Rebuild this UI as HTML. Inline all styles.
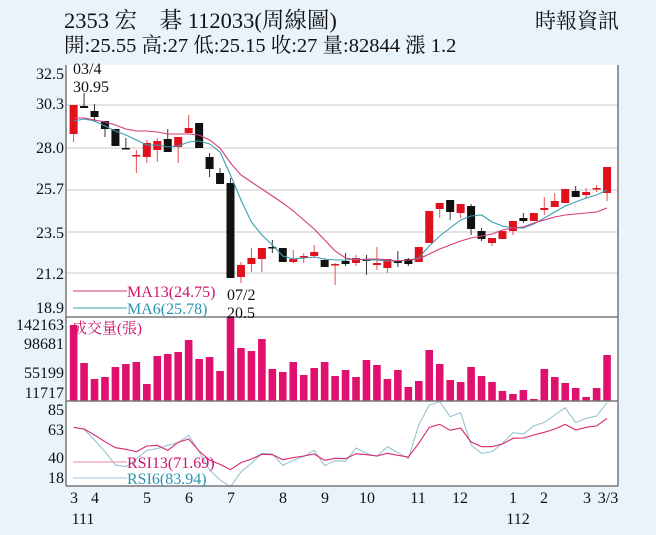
<!DOCTYPE html>
<html><head><meta charset="utf-8"><style>
html,body{margin:0;padding:0;background:#e8f3fc;}
svg{display:block;font-family:"Liberation Serif","Noto Serif CJK SC","Noto Sans CJK TC",serif;}
</style></head><body>
<svg id="s" width="656" height="535" viewBox="0 0 656 535" xmlns="http://www.w3.org/2000/svg">
<rect x="0" y="0" width="656" height="535" fill="#e8f3fc"/>
<rect x="66" y="65" width="552" height="421" fill="#fff"/>
<g stroke="#dcdcdc" stroke-width="1.5">
<line x1="66" y1="105" x2="618" y2="105"/><line x1="66" y1="148" x2="618" y2="148"/>
<line x1="66" y1="190" x2="618" y2="190"/><line x1="66" y1="232" x2="618" y2="232"/>
<line x1="66" y1="273" x2="618" y2="273"/>
</g>
<g id="g"></g>
<g stroke="#777" stroke-width="1.5" fill="none">
<line x1="66" y1="65" x2="66" y2="486"/><line x1="618" y1="65" x2="618" y2="486"/>
<line x1="66" y1="317" x2="618" y2="317"/><line x1="66" y1="401" x2="618" y2="401"/>
<line x1="66" y1="486" x2="618" y2="486"/>
</g>
<text x="64" y="28" font-size="22.5" fill="#111">2353  宏　碁 112033(周線圖)</text>
<text x="64" y="52" font-size="20.5" fill="#111">開:25.55 高:27 低:25.15 收:27 量:82844 漲 1.2</text>
<text x="535" y="28" font-size="21" fill="#111">時報資訊</text>
<g font-size="16" fill="#111" text-anchor="end">
<text x="64" y="79">32.5</text><text x="64" y="109">30.3</text><text x="64" y="153">28.0</text>
<text x="64" y="194">25.7</text><text x="64" y="238">23.5</text><text x="64" y="279">21.2</text>
<text x="64" y="313">18.9</text>
<text x="64" y="330">142163</text><text x="64" y="349">98681</text><text x="64" y="378">55199</text><text x="64" y="398">11717</text>
<text x="64" y="415">85</text><text x="64" y="435">63</text><text x="64" y="463">40</text><text x="64" y="483">18</text>
</g>
<g font-size="16" fill="#111">
<text x="73" y="74">03/4</text><text x="73" y="92">30.95</text>
<text x="227" y="300">07/2</text><text x="227" y="318">20.5</text>
</g>
<g font-size="16" fill="#111" text-anchor="middle">
<text x="74" y="503">3</text><text x="95" y="503">4</text><text x="147" y="503">5</text><text x="189" y="503">6</text>
<text x="231" y="503">7</text><text x="283" y="503">8</text><text x="325" y="503">9</text><text x="367" y="503">10</text>
<text x="418" y="503">11</text><text x="460" y="503">12</text><text x="513" y="503">1</text><text x="544" y="503">2</text>
<text x="587" y="503">3</text><text x="608" y="503">3/3</text>
<text x="83" y="524">111</text><text x="518" y="524">112</text>
</g>
<line x1="73" y1="291" x2="127" y2="291" stroke="#d23c78" stroke-width="1"/>
<text x="127" y="297" font-size="16" fill="#d0146a">MA13(24.75)</text>
<line x1="73" y1="308" x2="127" y2="308" stroke="#3a9db0" stroke-width="1"/>
<text x="127" y="314" font-size="16" fill="#2a95b0">MA6(25.78)</text>
<text x="72" y="333" font-size="15" fill="#d0146a">成交量(張)</text>
<line x1="73" y1="462" x2="127" y2="462" stroke="#e88aa8" stroke-width="1"/>
<text x="127" y="468" font-size="16" fill="#d0146a">RSI13(71.69)</text>
<line x1="73" y1="478" x2="127" y2="478" stroke="#9cc8d0" stroke-width="1"/>
<text x="127" y="484" font-size="16" fill="#2a95b0">RSI6(83.94)</text>
</svg>
<script>
var NS="http://www.w3.org/2000/svg",g=document.getElementById("g");
function el(t,a){var e=document.createElementNS(NS,t);for(var k in a)e.setAttribute(k,a[k]);g.appendChild(e);return e;}
function X(i){return 73.6+10.46*i;}
var vol=[325,363,379,377,367,364,362,384,356,354,352,340,359,357,371,316,348,351,339,369,372,362,375,368,362,376,370,377,360,365,379,370,387,381,350,364,380,382,367,376,382,391,394,390,399,369,377,383,388,397,388,355];
vol.forEach(function(y,i){el("rect",{x:X(i)-3.8,y:y,width:7.6,height:401-y,fill:"#e0106e"});});
var c=[[105,134,105,142,1],[106,108,93,108,0],[111,117,104,122,0],[121,129,121,137,0],[129,146,129,146,0],[148,149,138,149,0],[155,156,150,173,1],[143,157,140,163,1],[141,150,138,162,1],[139,152,129,152,0],[137,147,137,163,1],[128,133,115,133,1],[123,148,123,148,0],[157,169,153,177,0],[173,184,168,184,0],[183,278,178,278,0],[265,277,262,283,1],[258,264,248,272,1],[248,259,248,272,1],[247,248,240,253,0],[248,262,248,262,0],[259,262,250,263,1],[256,257,253,263,1],[252,256,245,258,1],[260,267,259,267,0],[264,265,263,285,1],[261,264,253,266,0],[258,263,255,266,1],[259,261,255,275,0],[263,265,247,270,1],[259,268,259,273,1],[261,263,251,267,0],[259,264,258,266,0],[247,262,247,262,1],[211,243,211,243,1],[203,209,203,218,1],[200,212,200,220,0],[204,213,204,218,1],[206,229,204,235,0],[231,239,228,241,0],[238,243,238,246,1],[231,239,231,239,1],[221,231,221,235,1],[218,221,213,223,0],[213,221,213,221,1],[208,210,197,215,1],[201,207,193,207,1],[189,203,189,203,1],[191,197,186,197,0],[192,195,188,199,1],[188,189,185,192,1],[167,193,167,201,1]];
c.forEach(function(d,i){var col=d[4]?"#e0101c":"#111",x=X(i);
el("line",{x1:x,y1:d[2],x2:x,y2:d[3],stroke:d[4]?"#e05050":"#333","stroke-width":1});
el("rect",{x:x-4,y:d[0],width:8,height:Math.max(1.5,d[1]-d[0]),fill:col});});
function line(arr,col,w){el("polyline",{points:arr.map(function(y,i){return X(i)+","+y;}).join(" "),fill:"none",stroke:col,"stroke-width":w});}
line([121,119,121,126,131,135,140,145,145,147,146,142,141,144,152,175,200,222,235,245,256,259,258,257,259,260,260,259,260,260,261,261,260,258,246,236,228,220,216,215,222,226,228,228,224,218,212,206,202,198,195,190],"#3a9db0",1.1);
line([118,118,120,122,125,129,131,131,132,134,134,134,135,140,148,163,175,182,189,196,203,211,220,229,240,251,258,260,259,259,260,261,260,259,254,249,245,241,238,236,234,230,228,227,223,220,217,215,214,213,212,208],"#d23c78",1.1);
var r13=[352,357,375,395,413,418,425,408,406,421,397,387,423,450,463,479,458,447,433,434,449,443,438,432,451,445,446,431,434,438,430,436,441,400,352,343,361,354,396,410,410,402,385,384,375,367,357,343,360,352,348,325].map(function(v){return v/3+310;});
var r6=[352,358,390,425,465,470,447,421,416,406,398,376,425,480,510,530,486,460,430,432,466,451,440,421,467,452,454,414,430,439,410,428,446,345,285,275,320,308,405,430,425,400,368,372,348,337,315,293,338,325,318,278].map(function(v){return Math.max(401,v/3+310);});
line(r6,"#8cc0cc",1);
line(r13,"#d8286e",1.1);
</script>
</body></html>
